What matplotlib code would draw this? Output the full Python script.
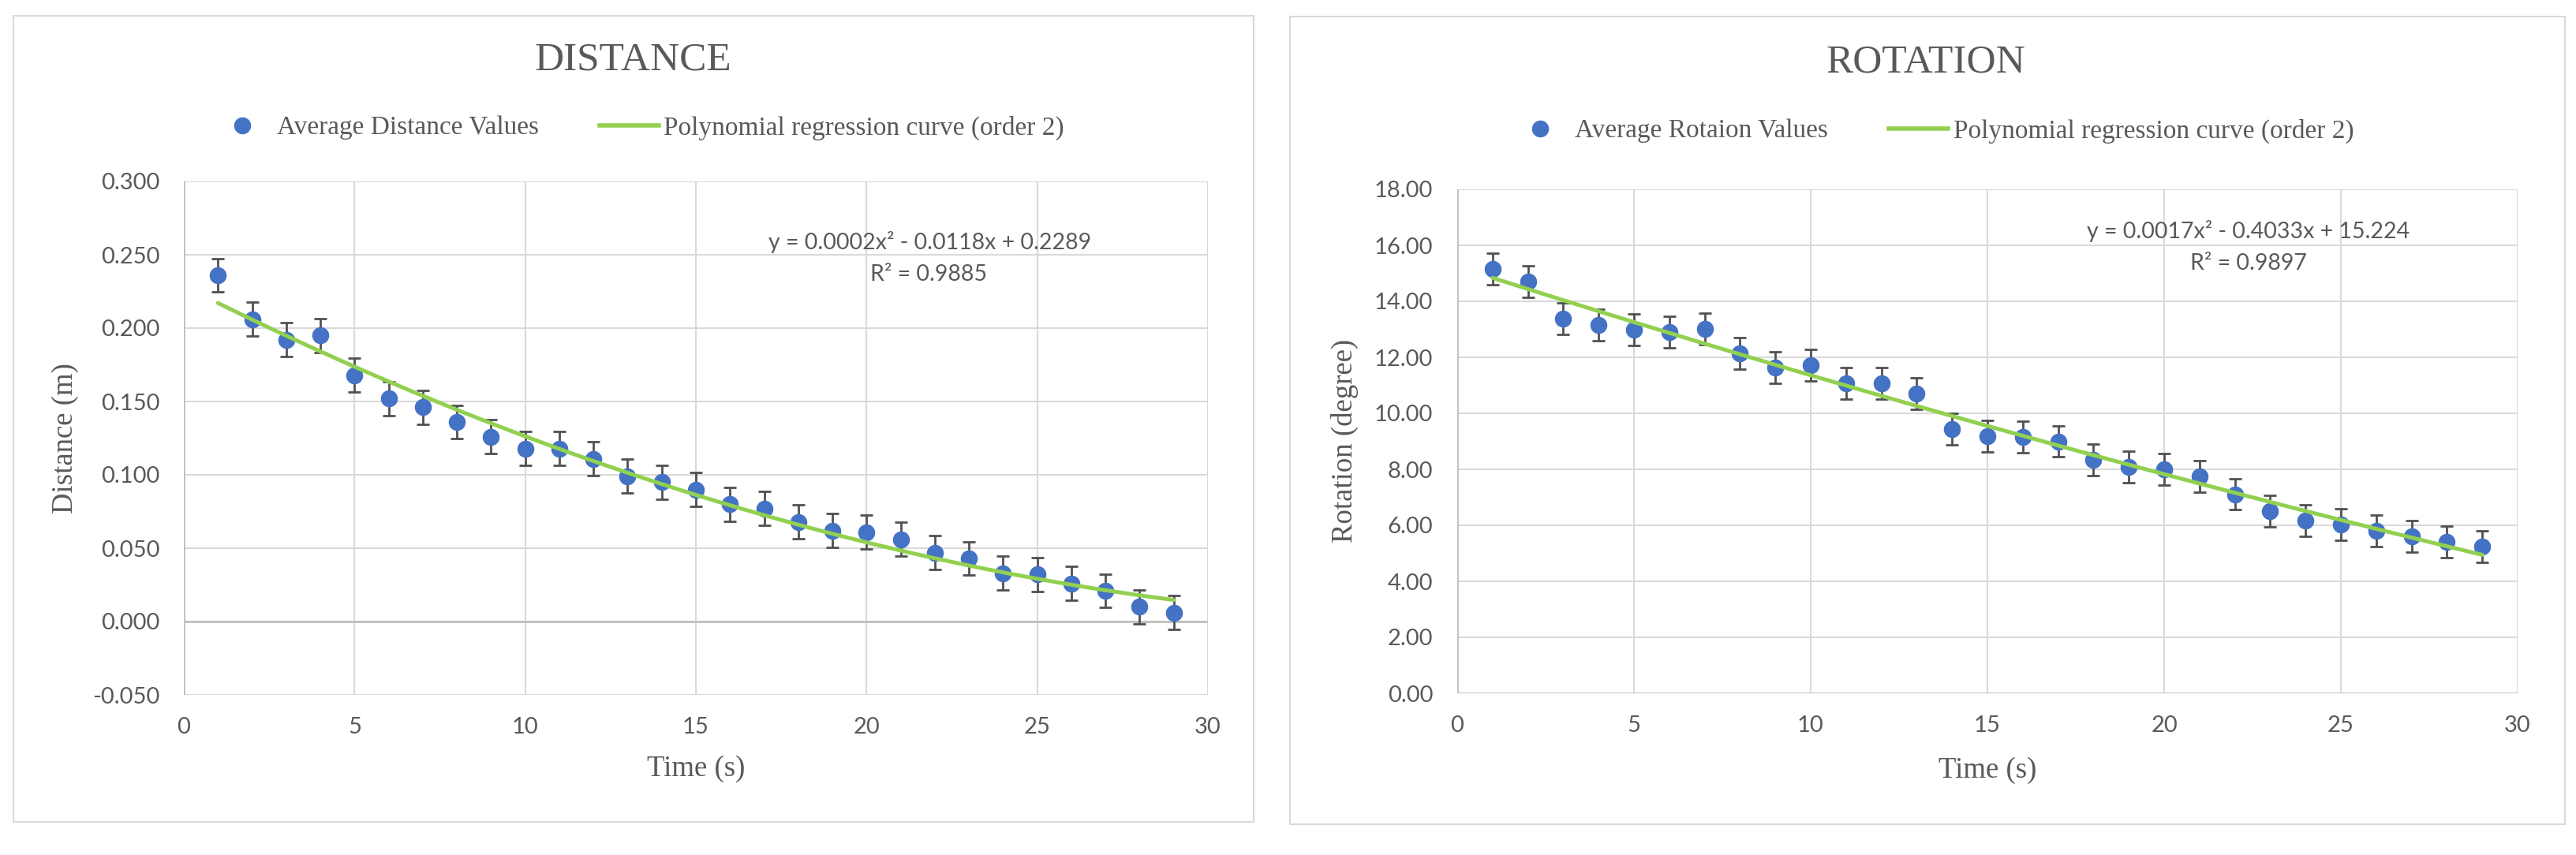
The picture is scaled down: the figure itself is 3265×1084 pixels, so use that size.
import numpy as np
import matplotlib
matplotlib.use("Agg")
import matplotlib.pyplot as plt
from matplotlib.lines import Line2D
from matplotlib.patches import Rectangle
from matplotlib.ticker import FuncFormatter

# data
time_s = np.arange(1, 30)
distance_m = [0.236, 0.206, 0.192, 0.195, 0.168, 0.152, 0.146, 0.136, 0.126, 0.118,
              0.118, 0.111, 0.099, 0.095, 0.090, 0.080, 0.077, 0.068, 0.062, 0.061,
              0.056, 0.047, 0.043, 0.033, 0.032, 0.026, 0.021, 0.010, 0.006]
distance_err = 0.0115
rotation_deg = [15.15, 14.71, 13.38, 13.15, 12.98, 12.90, 13.02, 12.15, 11.64, 11.71,
                11.08, 11.08, 10.71, 9.43, 9.19, 9.15, 9.00, 8.33, 8.09, 8.00,
                7.75, 7.11, 6.50, 6.17, 6.03, 5.81, 5.61, 5.40, 5.23]
rotation_err = 0.56

dist_eq = ["y = 0.0002x² - 0.0118x + 0.2289", "R² = 0.9885"]
rot_eq = ["y = 0.0017x² - 0.4033x + 15.224", "R² = 0.9897"]

BLUE = "#4472C4"
GREEN = "#92D050"
GRAY = "#595959"
GRID = "#D9D9D9"
AXLINE = "#BFBFBF"
SERIF = "Liberation Serif"
SANS = "Lato"

DPI = 100
fig = plt.figure(figsize=(32.66, 10.84), dpi=DPI)


def px(x, y):
    # pixel position of the reference -> figure fraction
    return x / 3266, 1 - y / 1084


def panel(rect, box, x, y, err, ylim, yticks, fmt, title, title_xy, series_name,
          leg_xy, eq, eq_xy, r2_xy, ylabel, ylabel_xy, xlabel_xy):
    fig.patches.append(Rectangle(box[:2], box[2], box[3], transform=fig.transFigure,
                                 fill=False, edgecolor=GRID, lw=1.5))
    ax = fig.add_axes(rect)
    for s in ax.spines.values():
        s.set_visible(False)
    ax.set_xlim(0, 30)
    ax.set_ylim(*ylim)
    ax.set_xticks(np.arange(0, 31, 5))
    ax.set_yticks(yticks)
    ax.yaxis.set_major_formatter(FuncFormatter(lambda v, p: fmt.format(v)))
    ax.grid(True, color=GRID, lw=1.5)
    ax.set_axisbelow(True)
    ax.tick_params(length=0, labelsize=21, labelcolor=GRAY)
    ax.tick_params(axis="y", pad=22)
    ax.tick_params(axis="x", pad=20)
    for lab in ax.get_xticklabels() + ax.get_yticklabels():
        lab.set_fontfamily(SANS)
    ax.axvline(0, color=AXLINE, lw=2, zorder=1)
    ax.axhline(0, color=AXLINE, lw=2, zorder=1)

    ax.errorbar(x, y, yerr=err, fmt="o", color=BLUE, ms=14.5, mec=BLUE,
                ecolor="#505050", elinewidth=2.0, capsize=6, capthick=2.0, zorder=3)
    coef = np.polyfit(x, y, 2)
    xs = np.linspace(x[0], x[-1], 200)
    ax.plot(xs, np.polyval(coef, xs), color=GREEN, lw=3.6, solid_capstyle="round", zorder=4)

    fig.text(*px(*title_xy), title, family=SERIF, fontsize=37, color=GRAY,
             ha="center", va="center")
    handles = [Line2D([], [], marker="o", ls="none", color=BLUE, ms=14.5),
               Line2D([], [], color=GREEN, lw=4)]
    fig.legend(handles, [series_name, "Polynomial regression curve (order 2)"],
               loc="center", bbox_to_anchor=px(*leg_xy), ncol=2, frameon=False,
               prop={"family": SERIF, "size": 24}, labelcolor=GRAY,
               handlelength=2.25, handletextpad=0.2, columnspacing=2.3)
    fig.text(*px(*eq_xy), eq[0], family=SANS, fontsize=20.5, color=GRAY,
             ha="center", va="center")
    fig.text(*px(*r2_xy), eq[1], family=SANS, fontsize=20.5, color=GRAY,
             ha="center", va="center")
    fig.text(*px(*ylabel_xy), ylabel, family=SERIF, fontsize=26.5, color=GRAY,
             rotation=90, ha="center", va="center")
    fig.text(*px(*xlabel_xy), "Time (s)", family=SERIF, fontsize=26.5, color=GRAY,
             ha="center", va="center")
    return ax


panel([233 / 3266, 1 - 881 / 1084, 1298 / 3266, 651 / 1084],
      (17 / 3266, 1 - 1042 / 1084, 1572 / 3266, 1022 / 1084),
      time_s, distance_m, distance_err, (-0.05, 0.30), np.arange(-0.05, 0.301, 0.05),
      "{:.3f}", "DISTANCE", (802, 76), "Average Distance Values", (809, 162),
      dist_eq, (1179, 307), (1177, 348), "Distance (m)", (83, 556), (882, 975))

panel([1847 / 3266, 1 - 879 / 1084, 1344 / 3266, 639 / 1084],
      (1635 / 3266, 1 - 1045 / 1084, 1616 / 3266, 1024 / 1084),
      time_s, rotation_deg, rotation_err, (0, 18), np.arange(0, 18.01, 2),
      "{:.2f}", "ROTATION", (2441, 79), "Average Rotaion Values", (2449, 166),
      rot_eq, (2850, 293), (2850, 334), "Rotation (degree)", (1704, 559), (2519, 977))

fig.savefig("out.png", dpi=DPI, facecolor="white")
